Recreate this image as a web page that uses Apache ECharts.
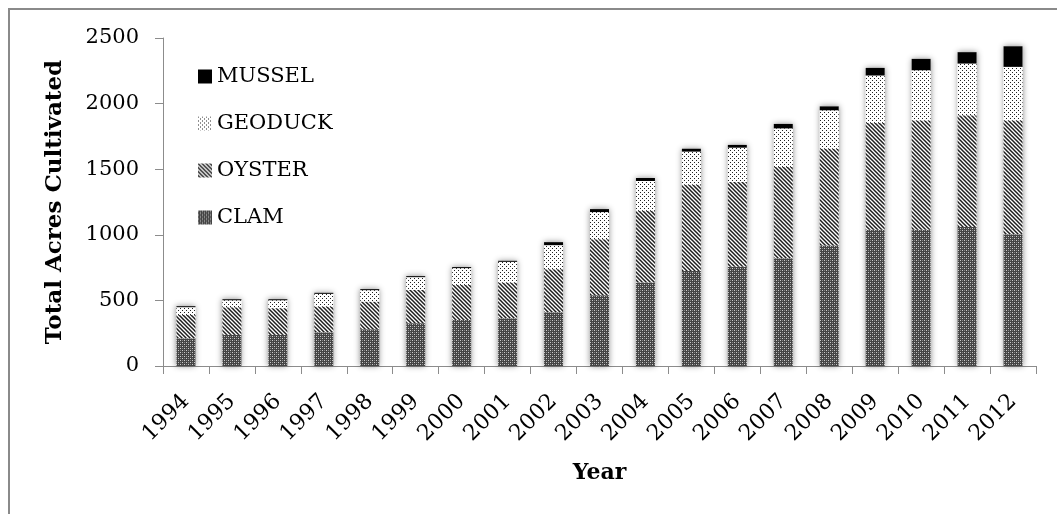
<!DOCTYPE html>
<html>
<head>
<meta charset="utf-8">
<title>Total Acres Cultivated</title>
<script src="https://cdn.jsdelivr.net/npm/echarts@6/dist/echarts.min.js"></script>
<style>
  html, body { margin: 0; padding: 0; background: #fff; }
  #wrap { position: relative; width: 1057px; height: 514px; overflow: hidden; }
  #chart { position: absolute; left: 0; top: 0; width: 1057px; height: 514px; }
  #frame {
    position: absolute; left: 8px; top: 8px; width: 1200px; height: 700px;
    border-left: 2px solid #8a8a8a; border-top: 2px solid #8a8a8a;
    pointer-events: none;
  }
</style>
</head>
<body>
<div id="wrap">
  <div id="chart"></div>
  <div id="frame"></div>
</div>
<script>
// Acres cultivated per shellfish type, by year
const years = ['1994','1995','1996','1997','1998','1999','2000','2001','2002','2003',
               '2004','2005','2006','2007','2008','2009','2010','2011','2012'];
const clam    = [211, 237, 237, 257, 280, 326, 351, 364, 410, 540, 636, 725, 756, 822, 918, 1038, 1038, 1059, 1005];
const oyster  = [178, 211, 203, 196, 211, 254, 267, 272, 328, 427, 547, 657, 646, 695, 738, 815, 834, 852, 867];
const geoduck = [59, 53, 61, 97, 87, 97, 128, 158, 183, 206, 227, 252, 262, 294, 293, 361, 382, 394, 408];
const mussel  = [8, 8, 8, 8, 8, 8, 8, 8, 23, 23, 23, 22, 21, 34, 30, 58, 87, 87, 157];
const legendOrder = ['MUSSEL', 'GEODUCK', 'OYSTER', 'CLAM'];

const FONT = '"DejaVu Serif", "Liberation Serif", serif';

// Small tiled fills used for the stacked segments
function tile(size, draw) {
  const c = document.createElement('canvas');
  c.width = size; c.height = size;
  const g = c.getContext('2d');
  draw(g, size);
  return { image: c, repeat: 'repeat' };
}
const clamFill = tile(4, (g, s) => {
  g.fillStyle = '#444444'; g.fillRect(0, 0, s, s);
  g.fillStyle = '#cccccc'; g.fillRect(0, 0, 1, 1); g.fillRect(2, 2, 1, 1);
  g.fillStyle = '#858585'; g.fillRect(2, 0, 1, 1); g.fillRect(0, 2, 1, 1);
});
const oysterFill = tile(4, (g, s) => {
  g.fillStyle = '#ffffff'; g.fillRect(0, 0, s, s);
  g.strokeStyle = '#1e1e1e'; g.lineWidth = 1.5;
  for (let k = -s; k <= s; k += s) {
    g.beginPath(); g.moveTo(k - 1, -1); g.lineTo(k + s + 1, s + 1); g.stroke();
  }
});
const geoduckFill = tile(4, (g, s) => {
  g.fillStyle = '#ffffff'; g.fillRect(0, 0, s, s);
  g.fillStyle = '#222222'; g.fillRect(0, 0, 1, 1); g.fillRect(2, 2, 1, 1);
});

const totals = years.map((_, i) => clam[i] + oyster[i] + geoduck[i] + mussel[i]);

const BAR_W = 19;
function stackSeries(name, data, color) {
  return {
    name, type: 'bar', stack: 'acres', data,
    barWidth: BAR_W, barGap: '-100%', z: 3,
    itemStyle: { color },
    emphasis: { disabled: true }
  };
}

const chart = echarts.init(document.getElementById('chart'), null, { renderer: 'canvas' });
chart.setOption({
  animation: false,
  backgroundColor: 'transparent',
  grid: { left: 163, right: 21, top: 38, bottom: 148, containLabel: false },
  legend: {
    data: legendOrder,
    orient: 'vertical',
    left: 198, top: 66,
    itemWidth: 14, itemHeight: 14, itemGap: 26,
    icon: 'rect',
    padding: 0,
    textStyle: { fontFamily: FONT, fontSize: 21, lineHeight: 20, color: '#000' },
    selectedMode: false
  },
  xAxis: {
    type: 'category',
    data: years,
    name: 'Year',
    nameLocation: 'middle',
    nameGap: 96,
    nameTextStyle: { fontFamily: FONT, fontSize: 22, fontWeight: 'bold', color: '#000' },
    axisLine: { show: true, lineStyle: { color: '#8c8c8c', width: 1 } },
    axisTick: { show: true, length: 8, lineStyle: { color: '#8c8c8c' } },
    axisLabel: { rotate: 45, margin: 32, fontFamily: FONT, fontSize: 22, color: '#000', interval: 0 }
  },
  yAxis: {
    type: 'value',
    min: 0, max: 2500, interval: 500,
    name: 'Total Acres Cultivated',
    nameLocation: 'middle',
    nameGap: 96,
    nameTextStyle: { fontFamily: FONT, fontSize: 23, fontWeight: 'bold', color: '#000' },
    axisLine: { show: true, lineStyle: { color: '#8c8c8c', width: 1 } },
    axisTick: { show: true, length: 8, lineStyle: { color: '#8c8c8c' } },
    axisLabel: { margin: 24, fontFamily: FONT, fontSize: 21, color: '#000', formatter: v => String(v) },
    splitLine: { show: false }
  },
  series: [
    {
      // soft halo behind each full column
      name: 'halo', type: 'bar', data: totals,
      barWidth: BAR_W, barGap: '-100%', z: 1, silent: true,
      itemStyle: { color: '#ffffff', shadowBlur: 6, shadowColor: 'rgba(0,0,0,0.45)' },
      emphasis: { disabled: true }
    },
    stackSeries('CLAM', clam, clamFill),
    stackSeries('OYSTER', oyster, oysterFill),
    stackSeries('GEODUCK', geoduck, geoduckFill),
    stackSeries('MUSSEL', mussel, '#000000')
  ]
});
</script>
</body>
</html>
